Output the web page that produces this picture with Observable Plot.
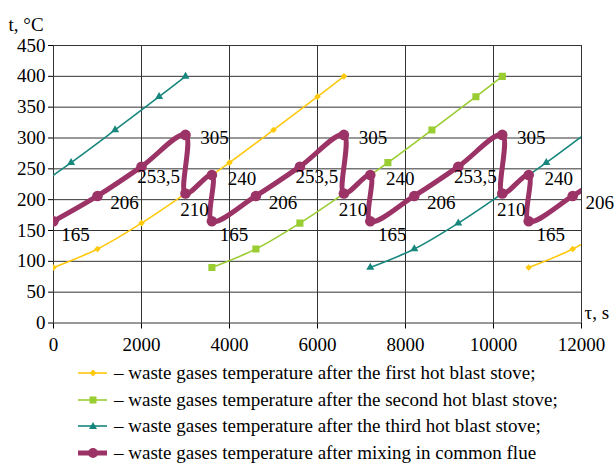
<!DOCTYPE html>
<html><head><meta charset="utf-8">
<script src="https://cdn.jsdelivr.net/npm/d3@7"></script>
<script src="https://cdn.jsdelivr.net/npm/@observablehq/plot@0.6"></script>
<style>
body{margin:0;background:#fff;font-family:"Liberation Serif",serif;}
#chart{position:absolute;left:0;top:0;}
#chart svg, #chart svg text{font-family:"Liberation Serif",serif !important;}
.row{position:absolute;left:78px;height:26px;display:flex;align-items:center;font-size:19px;white-space:nowrap;color:#000;}
.row svg{margin-right:6px;}
</style></head><body><div id="chart"></div><div id="legend"></div>
<script>
// ---- data ----
const xTicks = [0, 2000, 4000, 6000, 8000, 10000, 12000];
const yTicks = [0, 50, 100, 150, 200, 250, 300, 350, 400, 450];

const stove1Time = [0, 1000, 2000, 3000, 4000, 5000, 6000, 6600, 10800, 11800, 12800];
const stove1Temp = [90, 120, 162, 210, 260, 313, 367, 400, 90, 120, 162];
const stove1Run  = [1, 1, 1, 1, 1, 1, 1, 1, 2, 2, 2];

const stove2Time = [3600, 4600, 5600, 6600, 7600, 8600, 9600, 10200];
const stove2Temp = [90, 120, 162, 210, 260, 313, 367, 400];
const stove2Run  = [1, 1, 1, 1, 1, 1, 1, 1];

const stove3Time = [-600, 400, 1400, 2400, 3000, 7200, 8200, 9200, 10200, 11200, 12200];
const stove3Temp = [210, 260, 313, 367, 400, 90, 120, 162, 210, 260, 313];
const stove3Run  = [1, 1, 1, 1, 1, 2, 2, 2, 2, 2, 2];

const mixTime = [0, 1000, 2000, 3000, 3000, 3600, 3600, 4600, 5600, 6600, 6600, 7200, 7200, 8200, 9200, 10200, 10200, 10800, 10800, 11800, 12800];
const mixTemp = [165, 206, 253.5, 305, 210, 240, 165, 206, 253.5, 305, 210, 240, 165, 206, 253.5, 305, 210, 240, 165, 206, 253.5];

const seriesNames = [
  "– waste gases temperature after the first hot blast stove;",
  "– waste gases temperature after the second hot blast stove;",
  "– waste gases temperature after the third hot blast stove;",
  "– waste gases temperature after mixing  in  common flue"
];
const xLabel = "τ, s";
const yLabel = "t, °C";

// ---- styles ----
const YEL = "#ffc90e", GRN = "#9acd32", TEAL = "#17877d", PUR = "#9b3366";

const toRows = (T, V, R) => T.map((t, i) => ({t, v: V[i], run: R ? R[i] : 1}));
const s1 = toRows(stove1Time, stove1Temp, stove1Run);
const s2 = toRows(stove2Time, stove2Temp, stove2Run);
const s3 = toRows(stove3Time, stove3Temp, stove3Run);
const mix = toRows(mixTime, mixTemp);
const labelled = mix.filter(d => d.t >= 0 && d.t <= 12000);
const fmt = v => String(v).replace(".", ",");
const labelOffsets = {"165": [22, 14], "206": [27, 7], "253.5": [17, 10], "305": [29, 3], "210": [9, 16], "240": [30, 4]};

const labelMarks = Object.entries(labelOffsets).map(([k, [dx, dy]]) =>
  Plot.text(labelled.filter(d => String(d.v) === k), {x: "t", y: "v", text: d => fmt(d.v), dx, dy, fill: "#000", fontSize: 19})
);

const chart = Plot.plot({
  width: 614, height: 358,
  marginLeft: 53, marginRight: 33, marginTop: 45, marginBottom: 35.5,
  style: {fontFamily: "Liberation Serif", fontSize: "19px", color: "#000", background: "#fff", overflow: "visible"},
  x: {domain: [0, 12000], ticks: xTicks, tickFormat: d => String(d), tickSize: 6, tickPadding: 8, label: null},
  y: {domain: [0, 450], ticks: yTicks, tickSize: 5, tickPadding: 3, label: null},
  marks: [
    Plot.ruleX(xTicks, {stroke: "#333", strokeWidth: 1}),
    Plot.ruleY(yTicks, {stroke: "#333", strokeWidth: 1}),
    Plot.line(s1, {x: "t", y: "v", z: "run", stroke: YEL, strokeWidth: 1.6, curve: "catmull-rom", clip: true}),
    Plot.dot(s1, {x: "t", y: "v", symbol: "diamond2", fill: YEL, r: 3, clip: true}),
    Plot.line(s2, {x: "t", y: "v", z: "run", stroke: GRN, strokeWidth: 1.6, curve: "catmull-rom", clip: true}),
    Plot.dot(s2, {x: "t", y: "v", symbol: "square", fill: GRN, r: 4, clip: true}),
    Plot.line(s3, {x: "t", y: "v", z: "run", stroke: TEAL, strokeWidth: 1.6, curve: "catmull-rom", clip: true}),
    Plot.dot(s3, {x: "t", y: "v", symbol: "triangle", fill: TEAL, r: 3, clip: true}),
    Plot.line(mix, {x: "t", y: "v", stroke: PUR, strokeWidth: 5, curve: "catmull-rom", clip: true, strokeLinejoin: "round", strokeLinecap: "round"}),
    Plot.dot(mix, {x: "t", y: "v", fill: PUR, r: 5.3, clip: true}),
    ...labelMarks,
    Plot.text([yLabel], {frameAnchor: "top-left", dx: -45, dy: -28, textAnchor: "start", fill: "#000", fontSize: 19}),
    Plot.text([xLabel], {frameAnchor: "bottom-right", dx: 3, dy: -4, textAnchor: "start", fill: "#000", fontSize: 19})
  ]
});
document.getElementById("chart").appendChild(chart);

// ---- legend ----
const legend = document.getElementById("legend");
const legendStyles = [
  {c: YEL, w: 1.6, m: "diamond"},
  {c: GRN, w: 1.6, m: "square"},
  {c: TEAL, w: 1.6, m: "triangle"},
  {c: PUR, w: 5, m: "circle"}
];
const centers = [373, 399.5, 426, 452.5];
seriesNames.forEach((name, i) => {
  const st = legendStyles[i];
  const row = document.createElement("div");
  row.className = "row";
  row.style.top = (centers[i] - 13) + "px";
  let marker = "";
  if (st.m === "diamond") marker = `<path d="M15,2.5L18.5,6L15,9.5L11.5,6Z" fill="${st.c}"/>`;
  if (st.m === "square") marker = `<rect x="11.5" y="2.5" width="7" height="7" fill="${st.c}"/>`;
  if (st.m === "triangle") marker = `<path d="M15,2L19,9L11,9Z" fill="${st.c}"/>`;
  if (st.m === "circle") marker = `<circle cx="15" cy="6" r="5" fill="${st.c}"/>`;
  row.innerHTML = `<svg width="30" height="12"><line x1="0" x2="29" y1="6" y2="6" stroke="${st.c}" stroke-width="${st.w}"/>${marker}</svg><span>${name}</span>`;
  legend.appendChild(row);
});
</script></body></html>
